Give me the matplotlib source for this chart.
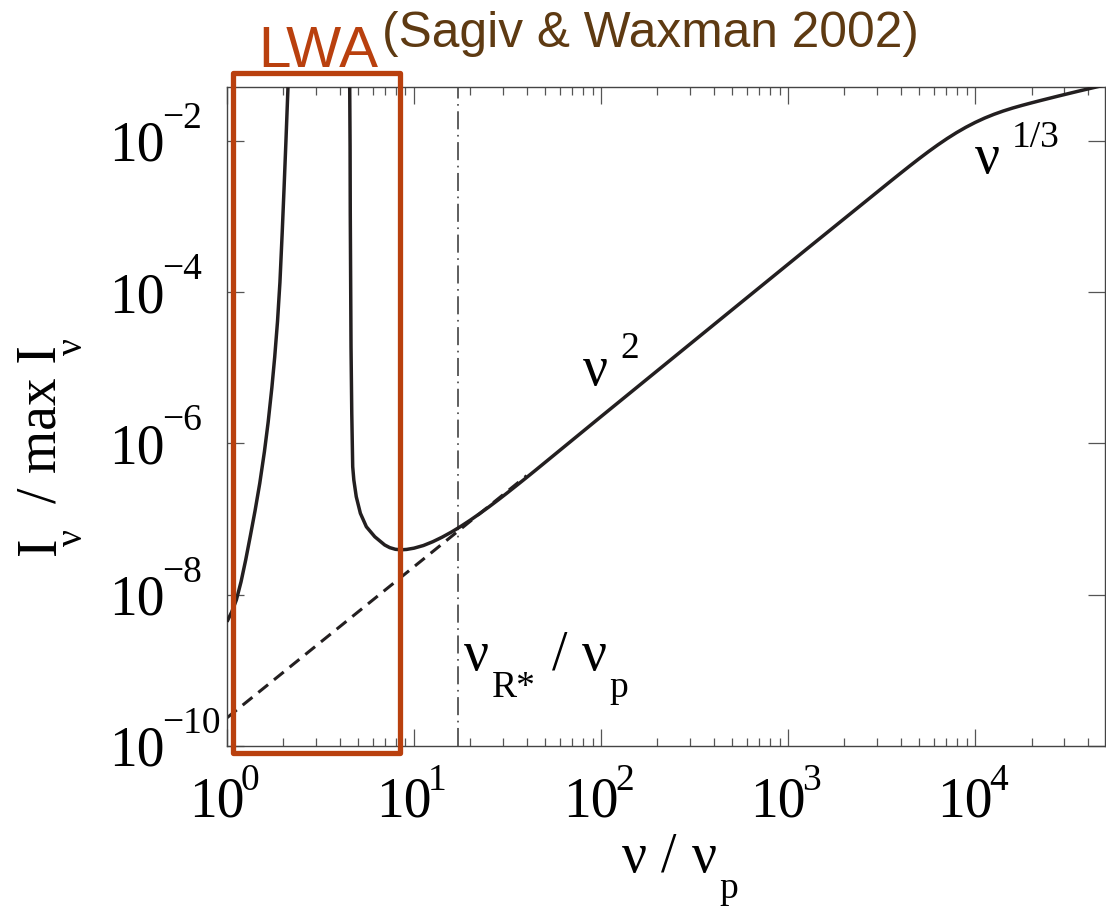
import matplotlib
matplotlib.use("Agg")
import numpy as np
import matplotlib.pyplot as plt
from matplotlib.ticker import LogLocator, NullLocator, FixedLocator
from matplotlib.transforms import blended_transform_factory, offset_copy
from matplotlib.patches import Rectangle

plt.rcParams['lines.scale_dashes'] = False

# ---------------- data (log10 of nu/nu_p and of I/maxI) ----------------
# low-frequency branch (rising steeply)
branch1_logx = [0.000, 0.025, 0.050, 0.075, 0.100, 0.125, 0.150, 0.175, 0.200,
                0.220, 0.240, 0.255, 0.270, 0.283, 0.295, 0.305, 0.315, 0.326]
branch1_logy = [-8.357, -8.23, -8.07, -7.83, -7.54, -7.22, -6.89, -6.53, -6.11,
                -5.72, -5.26, -4.86, -4.39, -3.87, -3.22, -2.63, -2.01, -1.294]

# main branch (falls, minimum, nu^2 rise, then nu^1/3)
branch2_logx = [0.656, 0.658, 0.659, 0.661, 0.663, 0.667, 0.672, 0.678, 0.691,
                0.713, 0.745, 0.790, 0.843, 0.870, 0.900, 0.930, 0.960, 1.000,
                1.050, 1.100, 1.150, 1.200, 1.250, 1.300, 1.350, 1.400, 1.450,
                1.500, 1.550, 1.600, 1.650, 2.000, 2.350, 2.700, 3.100, 3.400,
                3.450, 3.500, 3.550, 3.600, 3.650, 3.700, 3.750, 3.800, 3.850,
                3.900, 3.950, 4.000, 4.050, 4.100, 4.150, 4.200, 4.250, 4.300,
                4.350, 4.400, 4.450, 4.500, 4.550, 4.600, 4.650, 4.695]
branch2_logy = [-1.294, -2.079, -2.959, -3.841, -4.722, -5.603, -6.308, -6.484, -6.705,
                -6.924, -7.102, -7.234, -7.343, -7.378, -7.400, -7.407, -7.402, -7.385,
                -7.350, -7.300, -7.240, -7.172, -7.097, -7.016, -6.930, -6.840, -6.747,
                -6.651, -6.553, -6.454, -6.354, -5.645, -4.940, -4.235, -3.430, -2.830,
                -2.730, -2.630, -2.530, -2.431, -2.333, -2.237, -2.144, -2.055, -1.971,
                -1.893, -1.822, -1.758, -1.701, -1.651, -1.607, -1.568, -1.533, -1.500,
                -1.468, -1.437, -1.406, -1.376, -1.346, -1.317, -1.288, -1.262]

# nu^2 asymptote (dashed)
asym_x = [1.0, 40.0]
asym_y = [2.36e-10, 3.74e-7]

# nu_R* / nu_p marker
nu_R = 17.1

# LWA box (x range, y range)
lwa_x = [1.081, 8.414]
lwa_y = [8.0e-11, 7.78e-2]

xtick_vals = [1e0, 1e1, 1e2, 1e3, 1e4]
xtick_exp = ["0", "1", "2", "3", "4"]
ytick_vals = [1e-10, 1e-8, 1e-6, 1e-4, 1e-2]
ytick_exp = ["\u221210", "\u22128", "\u22126", "\u22124", "\u22122"]

xlim = (1.0, 4.94e4)
ylim = (1.0e-10, 5.13e-2)

# ---------------- figure ----------------
W, H = 1106, 908
fig = plt.figure(figsize=(W / 100, H / 100), dpi=100)
ax = fig.add_axes([227 / W, (H - 746) / H, (1105 - 227) / W, (746 - 87) / H])
ax.set_xscale('log')
ax.set_yscale('log')
ax.set_xlim(*xlim)
ax.set_ylim(*ylim)

ink = '#231f20'
ax.plot(np.power(10.0, branch1_logx), np.power(10.0, branch1_logy), color=ink, lw=2.5,
        solid_capstyle='butt', solid_joinstyle='round', zorder=3)
ax.plot(np.power(10.0, branch2_logx), np.power(10.0, branch2_logy), color=ink, lw=2.5,
        solid_capstyle='butt', solid_joinstyle='round', zorder=3)
ax.plot(asym_x, asym_y, color=ink, lw=2.2, dashes=(9, 5.5), zorder=2)
ax.axvline(nu_R, color='#333333', lw=1.1, dashes=(13, 4, 1.2, 4), zorder=2)

# ticks
ax.xaxis.set_major_locator(FixedLocator(xtick_vals))
ax.xaxis.set_minor_locator(LogLocator(base=10, subs=range(2, 10), numticks=30))
ax.yaxis.set_major_locator(FixedLocator(ytick_vals))
ax.yaxis.set_minor_locator(NullLocator())
ax.tick_params(which='both', direction='in', top=True, right=True,
               labelbottom=False, labelleft=False, color='#555555', width=0.9)
ax.tick_params(which='major', length=12)
ax.tick_params(which='minor', length=6)
for s in ax.spines.values():
    s.set_color('#444444')
    s.set_linewidth(1.0)

serif = 'Liberation Serif'
BIG, SMALL = 40, 27

# tick labels built as base + exponent pieces
tx = blended_transform_factory(ax.transData, fig.transFigure)
for v, e in zip(xtick_vals, xtick_exp):
    ax.text(v, 1 - 816.7 / H, "10", fontsize=BIG, family=serif, ha='left', va='baseline',
            transform=offset_copy(tx, fig=fig, x=-38, y=0, units='dots'), clip_on=False)
    ax.text(v, 1 - 790 / H, e, fontsize=SMALL, family=serif, ha='left', va='baseline',
            transform=offset_copy(tx, fig=fig, x=14, y=0, units='dots'), clip_on=False)

ty = blended_transform_factory(fig.transFigure, ax.transData)
for v, e in zip(ytick_vals, ytick_exp):
    ax.text(109 / W, v, "10", fontsize=BIG, family=serif, ha='left', va='baseline',
            transform=offset_copy(ty, fig=fig, x=0, y=-20, units='dots'), clip_on=False)
    ax.text(162 / W, v, e, fontsize=SMALL, family=serif, ha='left', va='baseline',
            transform=offset_copy(ty, fig=fig, x=0, y=13, units='dots'), clip_on=False)


def ftext(px, py, s, size, **kw):
    fig.text(px / W, 1 - py / H, s, fontsize=size, family=kw.pop('family', serif),
             ha='left', va='baseline', **kw)


# annotations
ftext(583, 385, "\u03bd", BIG, color='black')
ftext(620, 358, "2", SMALL, color='black')
ftext(975, 173.3, "\u03bd", BIG, color='black')
ftext(1012, 147.3, "1/3", SMALL, color='black')
ftext(464, 670, "\u03bd", BIG, color='black')
ftext(492, 696.7, "R*", SMALL, color='black')
ftext(552, 670, "/", BIG, color='black')
ftext(582, 670, "\u03bd", BIG, color='black')
ftext(609, 696.7, "p", SMALL, color='black')

# x label
ftext(622, 871.7, "\u03bd", BIG, color='black')
ftext(661, 871.7, "/", BIG, color='black')
ftext(692, 871.7, "\u03bd", BIG, color='black')
ftext(719, 898, "p", SMALL, color='black')


# y label (rotated pieces)
def rtext(px, py, s, size):
    fig.text(px / W, 1 - py / H, s, fontsize=size, family=serif, rotation=90,
             rotation_mode='anchor', ha='left', va='baseline', color='black')


rtext(55, 555, "I", BIG)
rtext(82, 546, "\u03bd", SMALL)
rtext(55, 503, "/", BIG)
rtext(55, 473, "max I", BIG)
rtext(82, 355, "\u03bd", SMALL)

# LWA box and titles
orange = '#b9400e'
ax.add_patch(Rectangle((lwa_x[0], lwa_y[0]), lwa_x[1] - lwa_x[0], lwa_y[1] - lwa_y[0],
                       fill=False, edgecolor=orange, lw=3.8, joinstyle='round',
                       clip_on=False, zorder=6))
ftext(258, 66.7, "LWA", 42, color=orange, family='Liberation Sans')
ftext(382, 46.7, "(Sagiv & Waxman 2002)", 35.7, color='#5e3a12', family='Liberation Sans')

fig.savefig("out.png", dpi=100)
